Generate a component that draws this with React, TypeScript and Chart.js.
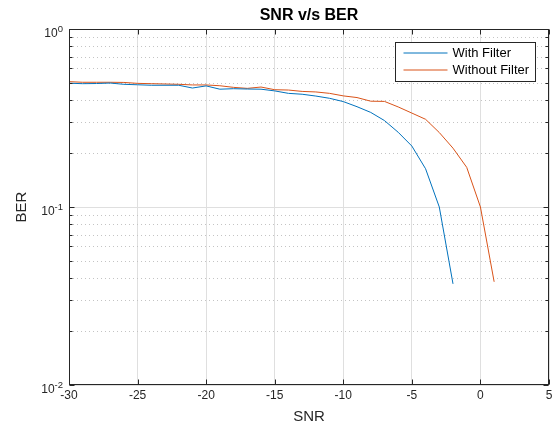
import React, { useEffect, useRef } from 'react';
import { Chart, registerables } from 'chart.js';

Chart.register(...registerables);

const FONT = '"Liberation Sans", Arial, Helvetica, sans-serif';

const snrWithFilter = [-30, -29, -28, -27, -26, -25, -24, -23, -22, -21, -20, -19, -18, -17, -16, -15, -14, -13, -12, -11, -10, -9, -8, -7, -6, -5, -4, -3, -2];
const berWithFilter = [0.496, 0.493, 0.494, 0.497, 0.489, 0.486, 0.483, 0.483, 0.483, 0.466, 0.479, 0.459, 0.462, 0.46, 0.459, 0.449, 0.435, 0.43, 0.42, 0.408, 0.391, 0.366, 0.34, 0.306, 0.263, 0.22, 0.164, 0.1, 0.037];

const snrWithoutFilter = [-30, -29, -28, -27, -26, -25, -24, -23, -22, -21, -20, -19, -18, -17, -16, -15, -14, -13, -12, -11, -10, -9, -8, -7, -6, -5, -4, -3, -2, -1, 0, 1];
const berWithoutFilter = [0.506, 0.502, 0.502, 0.502, 0.501, 0.495, 0.493, 0.491, 0.489, 0.485, 0.485, 0.48, 0.47, 0.464, 0.472, 0.456, 0.454, 0.446, 0.443, 0.435, 0.421, 0.412, 0.393, 0.392, 0.365, 0.337, 0.311, 0.262, 0.214, 0.167, 0.1, 0.038];

const seriesLabels = ['With Filter', 'Without Filter'];
const seriesColors = ['#0072BD', '#D95319'];

const xTickValues = [-30, -25, -20, -15, -10, -5, 0, 5];
const yDecadeValues = [0.01, 0.1, 1];
const yDecadeExponents = ['-2', '-1', '0'];
const yMinorMultipliers = [2, 3, 4, 5, 6, 7, 8, 9];

const chartTitle = 'SNR v/s BER';
const xTitle = 'SNR';
const yTitle = 'BER';

const isDecade = (v: number) => {
  const l = Math.log10(v);
  return Math.abs(l - Math.round(l)) < 1e-9;
};

const minorValues: number[] = [];
yDecadeValues.slice(0, -1).forEach((d) => yMinorMultipliers.forEach((m) => minorValues.push(+(d * m).toPrecision(6))));

const axesPlugin = {
  id: 'matlabAxes',
  beforeDatasetsDraw(chart: any) {
    const { ctx, chartArea: a, scales } = chart;
    const y = scales.y;
    ctx.save();
    ctx.strokeStyle = '#c4c4c4';
    ctx.lineWidth = 1;
    ctx.setLineDash([1, 3]);
    minorValues.forEach((v) => {
      const py = Math.round(y.getPixelForValue(v)) + 0.5;
      ctx.beginPath();
      ctx.moveTo(a.left, py);
      ctx.lineTo(a.right, py);
      ctx.stroke();
    });
    ctx.restore();
  },
  afterDatasetsDraw(chart: any) {
    const { ctx, chartArea: a, scales } = chart;
    const x = scales.x;
    const y = scales.y;
    const L = Math.round(a.left) + 0.5;
    const R = Math.round(a.right) - 0.5;
    const T = Math.round(a.top) + 0.5;
    const B = Math.round(a.bottom) - 0.5;
    ctx.save();
    ctx.strokeStyle = '#262626';
    ctx.lineWidth = 1;
    ctx.beginPath();
    xTickValues.forEach((v) => {
      const px = Math.round(x.getPixelForValue(v)) + 0.5;
      ctx.moveTo(px, B);
      ctx.lineTo(px, B - 5);
      ctx.moveTo(px, T);
      ctx.lineTo(px, T + 5);
    });
    const yTicks = [...yDecadeValues, ...minorValues];
    yTicks.forEach((v) => {
      const len = isDecade(v) ? 5 : 3;
      const py = Math.round(y.getPixelForValue(v)) + 0.5;
      ctx.moveTo(L, py);
      ctx.lineTo(L + len, py);
      ctx.moveTo(R, py);
      ctx.lineTo(R - len, py);
    });
    ctx.stroke();
    ctx.strokeRect(L, T, R - L, B - T);
    ctx.restore();
  },
  afterDraw(chart: any) {
    const { ctx, chartArea: a, scales } = chart;
    const y = scales.y;
    ctx.save();
    // y tick labels with superscript exponents
    ctx.fillStyle = '#262626';
    ctx.textAlign = 'right';
    ctx.textBaseline = 'alphabetic';
    yDecadeValues.forEach((v, i) => {
      const py = y.getPixelForValue(v);
      const right = a.left - 6;
      ctx.font = `9.5px ${FONT}`;
      const ew = ctx.measureText(yDecadeExponents[i]).width;
      ctx.fillText(yDecadeExponents[i], right, py + 3);
      ctx.font = `12px ${FONT}`;
      ctx.fillText('10', right - ew, py + 7.5);
    });
    // legend
    const bx = Math.round(a.right) - 153.5;
    const by = Math.round(a.top) + 13.5;
    const bw = 140;
    const bh = 39;
    ctx.fillStyle = '#ffffff';
    ctx.fillRect(bx, by, bw, bh);
    ctx.strokeStyle = '#262626';
    ctx.lineWidth = 1;
    ctx.strokeRect(bx, by, bw, bh);
    ctx.textAlign = 'left';
    ctx.textBaseline = 'middle';
    ctx.font = `13px ${FONT}`;
    seriesLabels.forEach((lab, i) => {
      const ly = by + 10.5 + i * 17;
      ctx.strokeStyle = seriesColors[i];
      ctx.beginPath();
      ctx.moveTo(bx + 8, ly);
      ctx.lineTo(bx + 52, ly);
      ctx.stroke();
      ctx.fillStyle = '#000000';
      ctx.fillText(lab, bx + 57, ly + 0.5);
    });
    ctx.restore();
  },
};

export default function App() {
  const canvasRef = useRef<HTMLCanvasElement | null>(null);

  useEffect(() => {
    const canvas = canvasRef.current;
    if (!canvas) return;
    const chart = new Chart(canvas, {
      type: 'line',
      data: {
        datasets: [
          {
            label: seriesLabels[0],
            data: snrWithFilter.map((s, i) => ({ x: s, y: berWithFilter[i] })),
            borderColor: seriesColors[0],
            backgroundColor: seriesColors[0],
            borderWidth: 1,
            pointRadius: 0,
            fill: false,
            tension: 0,
          },
          {
            label: seriesLabels[1],
            data: snrWithoutFilter.map((s, i) => ({ x: s, y: berWithoutFilter[i] })),
            borderColor: seriesColors[1],
            backgroundColor: seriesColors[1],
            borderWidth: 1,
            pointRadius: 0,
            fill: false,
            tension: 0,
          },
        ],
      },
      options: {
        animation: false,
        responsive: false,
        maintainAspectRatio: false,
        events: [],
        layout: { padding: { left: 0, right: 8, top: 0, bottom: 0 } },
        plugins: {
          legend: { display: false },
          tooltip: { enabled: false },
          title: {
            display: true,
            text: chartTitle,
            fullSize: false,
            color: '#000000',
            font: { family: FONT, size: 16, weight: 'bold' },
            padding: { top: 6, bottom: 3.8 },
          },
        },
        scales: {
          x: {
            type: 'linear',
            min: -30,
            max: 5,
            afterBuildTicks: (s: any) => {
              s.ticks = xTickValues.map((v) => ({ value: v }));
            },
            ticks: {
              color: '#262626',
              font: { family: FONT, size: 12 },
              padding: 3,
              maxRotation: 0,
              autoSkip: false,
            },
            grid: { color: '#dfdfdf', drawTicks: false, lineWidth: 1 },
            border: { display: false },
            title: {
              display: true,
              text: xTitle,
              color: '#262626',
              font: { family: FONT, size: 15 },
              padding: { top: 0, bottom: 2 },
            },
            afterFit: (s: any) => {
              s.height = 43;
            },
          },
          y: {
            type: 'logarithmic',
            min: 0.01,
            max: 1,
            afterBuildTicks: (s: any) => {
              s.ticks = [...yDecadeValues, ...minorValues].sort((p, q) => p - q).map((v) => ({ value: v }));
            },
            ticks: { display: false, autoSkip: false },
            grid: {
              drawTicks: false,
              lineWidth: 1,
              color: (c: any) => (c.tick && isDecade(c.tick.value) ? '#dfdfdf' : 'rgba(0,0,0,0)'),
            },
            border: { display: false },
            title: {
              display: true,
              text: yTitle,
              color: '#262626',
              font: { family: FONT, size: 15 },
              padding: { top: 13, bottom: 0 },
            },
            afterFit: (s: any) => {
              s.width = 69;
            },
          },
        },
      } as any,
      plugins: [axesPlugin],
    });
    return () => chart.destroy();
  }, []);

  return (
    <div style={{ position: 'fixed', left: 0, top: 0, width: 557, height: 428, background: '#ffffff' }}>
      <canvas ref={canvasRef} width={557} height={428} style={{ width: 557, height: 428, display: 'block' }} />
    </div>
  );
}
